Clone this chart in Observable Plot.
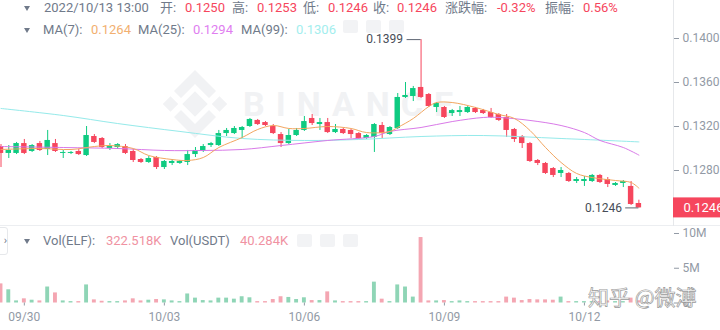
<!DOCTYPE html>
<html><head><meta charset="utf-8">
<script src="https://cdn.jsdelivr.net/npm/d3@7"></script>
<script src="https://cdn.jsdelivr.net/npm/@observablehq/plot@0.6"></script>
<style>
body{margin:0;background:#fff;}
#wrap{position:relative;width:720px;height:330px;overflow:hidden;font-family:Roboto,"Noto Sans CJK SC",sans-serif;}
.t{position:absolute;font-size:13px;line-height:16px;white-space:pre;color:#707a8a;}
.tri{position:absolute;width:0;height:0;border-left:3.5px solid transparent;border-right:3.5px solid transparent;border-top:5px solid #707a8a;}
.box{position:absolute;width:15px;height:13px;background:#f2f3f5;border-radius:2px;}
.abs{position:absolute;left:0;}
</style></head><body><div id="wrap"></div>
<script>
// ---- data (4h candles, ELF/USDT) ----
const startUTC = "2022-09-29T12:00:00Z";
const intervalHours = 4;
const open  = [0.13018,0.12955,0.12955,0.13045,0.12973,0.13045,0.12991,0.13045,0.12955,0.12955,0.12973,0.12936,0.13109,0.13091,0.13000,0.13009,0.13018,0.12973,0.12900,0.12873,0.12918,0.12827,0.12864,0.12864,0.12873,0.12945,0.12973,0.13027,0.13027,0.13136,0.13136,0.13164,0.13200,0.13255,0.13236,0.13200,0.13127,0.13045,0.13118,0.13164,0.13273,0.13218,0.13236,0.13145,0.13173,0.13164,0.13136,0.13091,0.13100,0.13209,0.13127,0.13182,0.13464,0.13473,0.13555,0.13491,0.13373,0.13373,0.13318,0.13327,0.13327,0.13364,0.13345,0.13327,0.13309,0.13282,0.13173,0.13109,0.13045,0.12891,0.12864,0.12818,0.12773,0.12773,0.12700,0.12700,0.12700,0.12755,0.12718,0.12664,0.12682,0.12655,0.12500];
const high  = [0.13036,0.13027,0.13055,0.13082,0.13036,0.13064,0.13164,0.13082,0.12982,0.12973,0.12991,0.13200,0.13127,0.13100,0.13045,0.13045,0.13036,0.12991,0.12909,0.12927,0.12927,0.12891,0.12900,0.12891,0.12982,0.13009,0.13036,0.13055,0.13164,0.13182,0.13200,0.13200,0.13273,0.13264,0.13245,0.13218,0.13145,0.13173,0.13182,0.13291,0.13309,0.13273,0.13273,0.13218,0.13182,0.13173,0.13145,0.13127,0.13227,0.13236,0.13200,0.13500,0.13600,0.13564,0.13990,0.13500,0.13418,0.13382,0.13355,0.13382,0.13382,0.13373,0.13355,0.13364,0.13318,0.13309,0.13182,0.13118,0.13055,0.12900,0.12873,0.12827,0.12827,0.12782,0.12736,0.12745,0.12764,0.12764,0.12736,0.12691,0.12709,0.12700,0.12530];
const low   = [0.12827,0.12909,0.12945,0.12945,0.12964,0.12973,0.12936,0.12964,0.12909,0.12945,0.12936,0.12927,0.13045,0.13000,0.12982,0.12991,0.12945,0.12873,0.12864,0.12864,0.12809,0.12809,0.12845,0.12855,0.12845,0.12918,0.12964,0.13009,0.13018,0.13109,0.13127,0.13091,0.13191,0.13209,0.13200,0.13127,0.13009,0.13036,0.13109,0.13155,0.13209,0.13164,0.13136,0.13136,0.13127,0.13091,0.13082,0.13082,0.12964,0.13091,0.13118,0.13173,0.13455,0.13427,0.13455,0.13373,0.13327,0.13273,0.13291,0.13291,0.13318,0.13318,0.13309,0.13273,0.13245,0.13100,0.13055,0.13000,0.12873,0.12845,0.12764,0.12736,0.12736,0.12691,0.12682,0.12655,0.12691,0.12682,0.12645,0.12655,0.12645,0.12482,0.12460];
const close = [0.12955,0.12982,0.13045,0.12955,0.13027,0.12982,0.13073,0.12973,0.12964,0.12964,0.12945,0.13118,0.13055,0.13009,0.13018,0.13036,0.12955,0.12891,0.12873,0.12909,0.12827,0.12882,0.12882,0.12882,0.12945,0.12982,0.13018,0.13045,0.13136,0.13164,0.13182,0.13191,0.13264,0.13218,0.13209,0.13136,0.13045,0.13118,0.13164,0.13245,0.13227,0.13236,0.13145,0.13173,0.13136,0.13127,0.13091,0.13118,0.13218,0.13136,0.13191,0.13464,0.13482,0.13545,0.13464,0.13382,0.13409,0.13282,0.13345,0.13345,0.13373,0.13327,0.13318,0.13282,0.13255,0.13164,0.13082,0.13045,0.12882,0.12864,0.12773,0.12755,0.12800,0.12700,0.12718,0.12718,0.12755,0.12691,0.12673,0.12682,0.12700,0.12491,0.12460];
const volume = [2.75,1.9,0.3,0.6,0.4,0.3,2.3,1.45,0.3,0.2,0.2,2.6,0.45,0.25,0.2,0.2,0.3,0.6,0.3,0.4,0.5,0.45,0.3,0.2,1.3,0.7,0.35,0.3,0.7,0.7,0.55,0.9,0.75,0.2,0.2,0.5,0.9,0.8,0.5,0.75,0.35,0.35,1.6,0.3,0.2,0.2,0.2,0.2,3.0,0.55,0.2,2.6,2.3,0.85,9.42,0.3,0.3,0.35,0.2,0.3,0.2,0.2,0.2,0.2,0.2,0.85,0.7,0.35,0.5,0.45,0.45,0.4,0.85,0.2,0.2,0.2,0.2,0.2,0.3,0.2,0.2,0.7,0.3225]; // millions

// moving averages at sample candles
const ma7Idx  = [0,5,9,12,14,17,19,22,24,26,28,31,33,35,37,39,42,45,47,50,51,53,55,56,58,61,64,66,68,70,72,74,76,79,81,82];
const ma7     = [0.12991,0.13000,0.12991,0.13018,0.13027,0.13000,0.12936,0.12900,0.12891,0.12918,0.13009,0.13100,0.13173,0.13209,0.13182,0.13182,0.13200,0.13182,0.13145,0.13155,0.13191,0.13273,0.13382,0.13418,0.13418,0.13373,0.13309,0.13273,0.13164,0.13009,0.12873,0.12773,0.12736,0.12709,0.12691,0.12640];
const ma25Idx = [0,8,15,21,26,31,36,42,48,50,54,58,62,64,68,72,75,77,80,82];
const ma25    = [0.13018,0.13009,0.13000,0.12982,0.12982,0.12991,0.13027,0.13073,0.13109,0.13155,0.13191,0.13245,0.13282,0.13282,0.13255,0.13209,0.13145,0.13073,0.13009,0.12940];
const ma99Idx = [0,8,15,23,31,39,46,54,62,72,82];
const ma99    = [0.13364,0.13300,0.13227,0.13155,0.13091,0.13073,0.13082,0.13109,0.13118,0.13091,0.13060];

const priceTicks = [0.1280,0.1320,0.1360,0.1400,0.1440];
const volTicks = [0,5,10];
const volTickLabels = ["0","5M","10M"];
const dateTickLabels = ["09/30","10/03","10/06","10/09","10/12"];
const dateTickYear = 2022;

const header1 = [["2022/10/13 13:00",44,"g"],["开:",160,"g"],["0.1250",185,"r"],["高:",232,"g"],["0.1253",257,"r"],["低:",303,"g"],["0.1246",328,"r"],["收:",373,"g"],["0.1246",397,"r"],["涨跌幅:",445,"g"],["-0.32%",497,"r"],["振幅:",545,"g"],["0.56%",583,"r"]];
const header2 = [["MA(7):",43,"g"],["0.1264",91,"o"],["MA(25):",138,"g"],["0.1294",193,"m"],["MA(99):",241,"g"],["0.1306",296,"c"]];
const header3 = [["Vol(ELF):",43,"g"],["322.518K",106,"p"],["Vol(USDT)",170,"g"],["40.284K",240,"p"]];

// ---- build ----
const G="#0ecb81", R="#f6465d", GV="#8fd5b6", RV="#f4a6b2";
const H = 3600e3;
const t0 = +new Date(startUTC);
const step = intervalHours*H;
const tAt = k => new Date(t0 + k*step);
const xDom = [new Date(t0 - 0.26*H), new Date(t0 + 345.8*H)];
const xMax = xDom[1];
const candles = open.map((o,i)=>({t:tAt(i), o, h:high[i], l:low[i], c:close[i], v:volume[i], up: close[i]>=o}));
const hiC = candles.reduce((a,b)=> b.h>a.h?b:a);
const loC = candles.reduce((a,b)=> b.l<a.l?b:a);
const last = candles[candles.length-1];
const fmt4 = d3.format(".4f");
const maLine = (idx,val)=> idx.map((k,j)=>({t:tAt(k), v:val[j]}));
const dateTicks = dateTickLabels.map(s=>{const [m,d]=s.split("/").map(Number); return new Date(Date.UTC(dateTickYear,m-1,d));});

const wrap = document.getElementById("wrap");

// watermark (behind)
const wm = document.createElement("div");
wm.innerHTML = `<svg class="abs" style="top:0" width="720" height="330">
<g fill="#f1f2f4" transform="translate(195,104)">
<rect x="-9" y="-9" width="18" height="18" transform="rotate(45)"/>
<rect x="-30" y="-5.5" width="11" height="11" transform="rotate(45 -24.5 0)"/>
<rect x="19" y="-5.5" width="11" height="11" transform="rotate(45 24.5 0)"/>
<path d="M0,-34 L21,-13 L14,-6 L0,-20 L-14,-6 L-21,-13 Z"/>
<path d="M0,34 L21,13 L14,6 L0,20 L-14,6 L-21,13 Z"/>
</g>
<text x="243" y="116" font-family="Roboto" font-weight="700" font-size="34" letter-spacing="11" fill="#f1f2f4">BINANCE</text>
</svg>`;
wrap.appendChild(wm);

// separator
const sep = document.createElement("div");
sep.style.cssText="position:absolute;left:0;top:225px;width:720px;height:1px;background:#eceef1;";
wrap.appendChild(sep);

// header buttons (faded icons)
for(const [x,y] of [[343,20],[366,20],[389,20],[297,234],[320,234],[343,234]]){
  const b=document.createElement("div"); b.className="box"; b.style.left=x+"px"; b.style.top=y+"px"; wrap.appendChild(b);
}

const price = Plot.plot({
  width:720, height:226, marginLeft:0, marginRight:47, marginTop:0, marginBottom:0,
  style:{fontFamily:"Roboto, sans-serif", background:"transparent", overflow:"visible"},
  x:{type:"utc", domain:xDom, axis:null},
  y:{domain:[0.122909,0.143455], axis:null},
  marks:[
    Plot.ruleX([xMax], {stroke:"#e6e8eb"}),
    Plot.ruleX(candles, {x:"t", y1:"l", y2:"h", stroke:d=>d.up?G:R, strokeWidth:1}),
    Plot.rect(candles, {x1:d=>new Date(+d.t-1.4*H), x2:d=>new Date(+d.t+1.4*H), y1:"o", y2:"c", fill:d=>d.up?G:R}),
    Plot.line(maLine(ma99Idx,ma99), {x:"t", y:"v", stroke:"#95eaea", strokeWidth:1, curve:"catmull-rom"}),
    Plot.line(maLine(ma25Idx,ma25), {x:"t", y:"v", stroke:"#d97ae8", strokeWidth:1, curve:"catmull-rom"}),
    Plot.line(maLine(ma7Idx,ma7), {x:"t", y:"v", stroke:"#f2a660", strokeWidth:1, curve:"catmull-rom"}),
    // extreme labels
    Plot.ruleY([hiC], {y:"h", x1:d=>new Date(+d.t-7.2*H), x2:"t", stroke:"#5e6673", strokeWidth:1}),
    Plot.text([hiC], {x:"t", y:"h", text:d=>fmt4(d.h), dx:-18, textAnchor:"end", fill:"#474d57", fontSize:12}),
    Plot.ruleY([loC], {y:"l", x1:d=>new Date(+d.t-6.8*H), x2:"t", stroke:"#5e6673", strokeWidth:1}),
    Plot.text([loC], {x:"t", y:"l", text:d=>fmt4(d.l), dx:-17, textAnchor:"end", fill:"#474d57", fontSize:12}),
    Plot.axisY({anchor:"right", ticks:priceTicks, tickFormat:fmt4, tickSize:5, tickPadding:4, fontSize:12, color:"#929aa5", label:null}),
    // last price tag
    Plot.rect([last], {x1:()=>xMax, x2:()=>xMax, y1:"c", y2:"c", insetRight:-47, insetTop:-10, insetBottom:-10, fill:R}),
    Plot.text([last], {x:()=>xMax, y:"c", text:d=>fmt4(d.c), dx:10, textAnchor:"start", fill:"white", fontSize:13})
  ]
});
price.style.position="absolute"; price.style.left="0"; price.style.top="0";
wrap.appendChild(price);

const vol = Plot.plot({
  width:720, height:104, marginLeft:0, marginRight:47, marginTop:0, marginBottom:27.5,
  style:{fontFamily:"Roboto, sans-serif", background:"transparent", overflow:"visible"},
  x:{type:"utc", domain:xDom, axis:null, label:null},
  y:{domain:[0,11.007], axis:null, label:null},
  marks:[
    Plot.ruleX([xMax], {stroke:"#e6e8eb", y1:0, y2:-0.35}),
    Plot.rect(candles, {x1:d=>new Date(+d.t-1.0*H), x2:d=>new Date(+d.t+1.0*H), y1:0, y2:"v", fill:d=>d.up?GV:RV}),
    Plot.axisX({ticks:dateTicks, tickFormat:(d,i)=>dateTickLabels[i], tickSize:3, tickPadding:6, fontSize:12, color:"#929aa5", label:null}),
    Plot.axisY({anchor:"right", ticks:volTicks, tickFormat:(d,i)=>volTickLabels[i], tickSize:5, tickPadding:4, fontSize:12, color:"#929aa5", label:null})
  ]
});
vol.style.position="absolute"; vol.style.left="0"; vol.style.top="226px";
wrap.appendChild(vol);

// header texts
const colors={g:"#707a8a", r:"#f6465d", o:"#f2b070", m:"#e07ef0", c:"#a3eeee", p:"#f092a2"};
function row(items, top){
  for(const [txt,x,c] of items){
    const s=document.createElement("div"); s.className="t";
    s.style.left=x+"px"; s.style.top=top+"px"; s.style.color=colors[c]; s.textContent=txt;
    wrap.appendChild(s);
  }
  const tr=document.createElement("div"); tr.className="tri"; tr.style.left="24px"; tr.style.top=(top+6)+"px"; wrap.appendChild(tr);
}
row(header1,0); row(header2,22); row(header3,233);
// collapse tab
const tab=document.createElement("div");
tab.style.cssText="position:absolute;left:-4px;top:227px;width:10px;height:26px;border:1px solid #e6e8eb;border-radius:3px;background:#fff;color:#707a8a;font-size:11px;line-height:26px;text-align:right;";
tab.textContent="›"; wrap.appendChild(tab);
// zhihu watermark
const zh=document.createElement("div");
zh.style.cssText="position:absolute;left:588px;top:284px;font-size:21px;line-height:24px;white-space:pre;color:#fff;-webkit-text-stroke:0.7px #9a9a9a;font-family:'Noto Sans CJK SC',sans-serif;";
zh.textContent="知乎 @微溥"; wrap.appendChild(zh);
</script></body></html>
